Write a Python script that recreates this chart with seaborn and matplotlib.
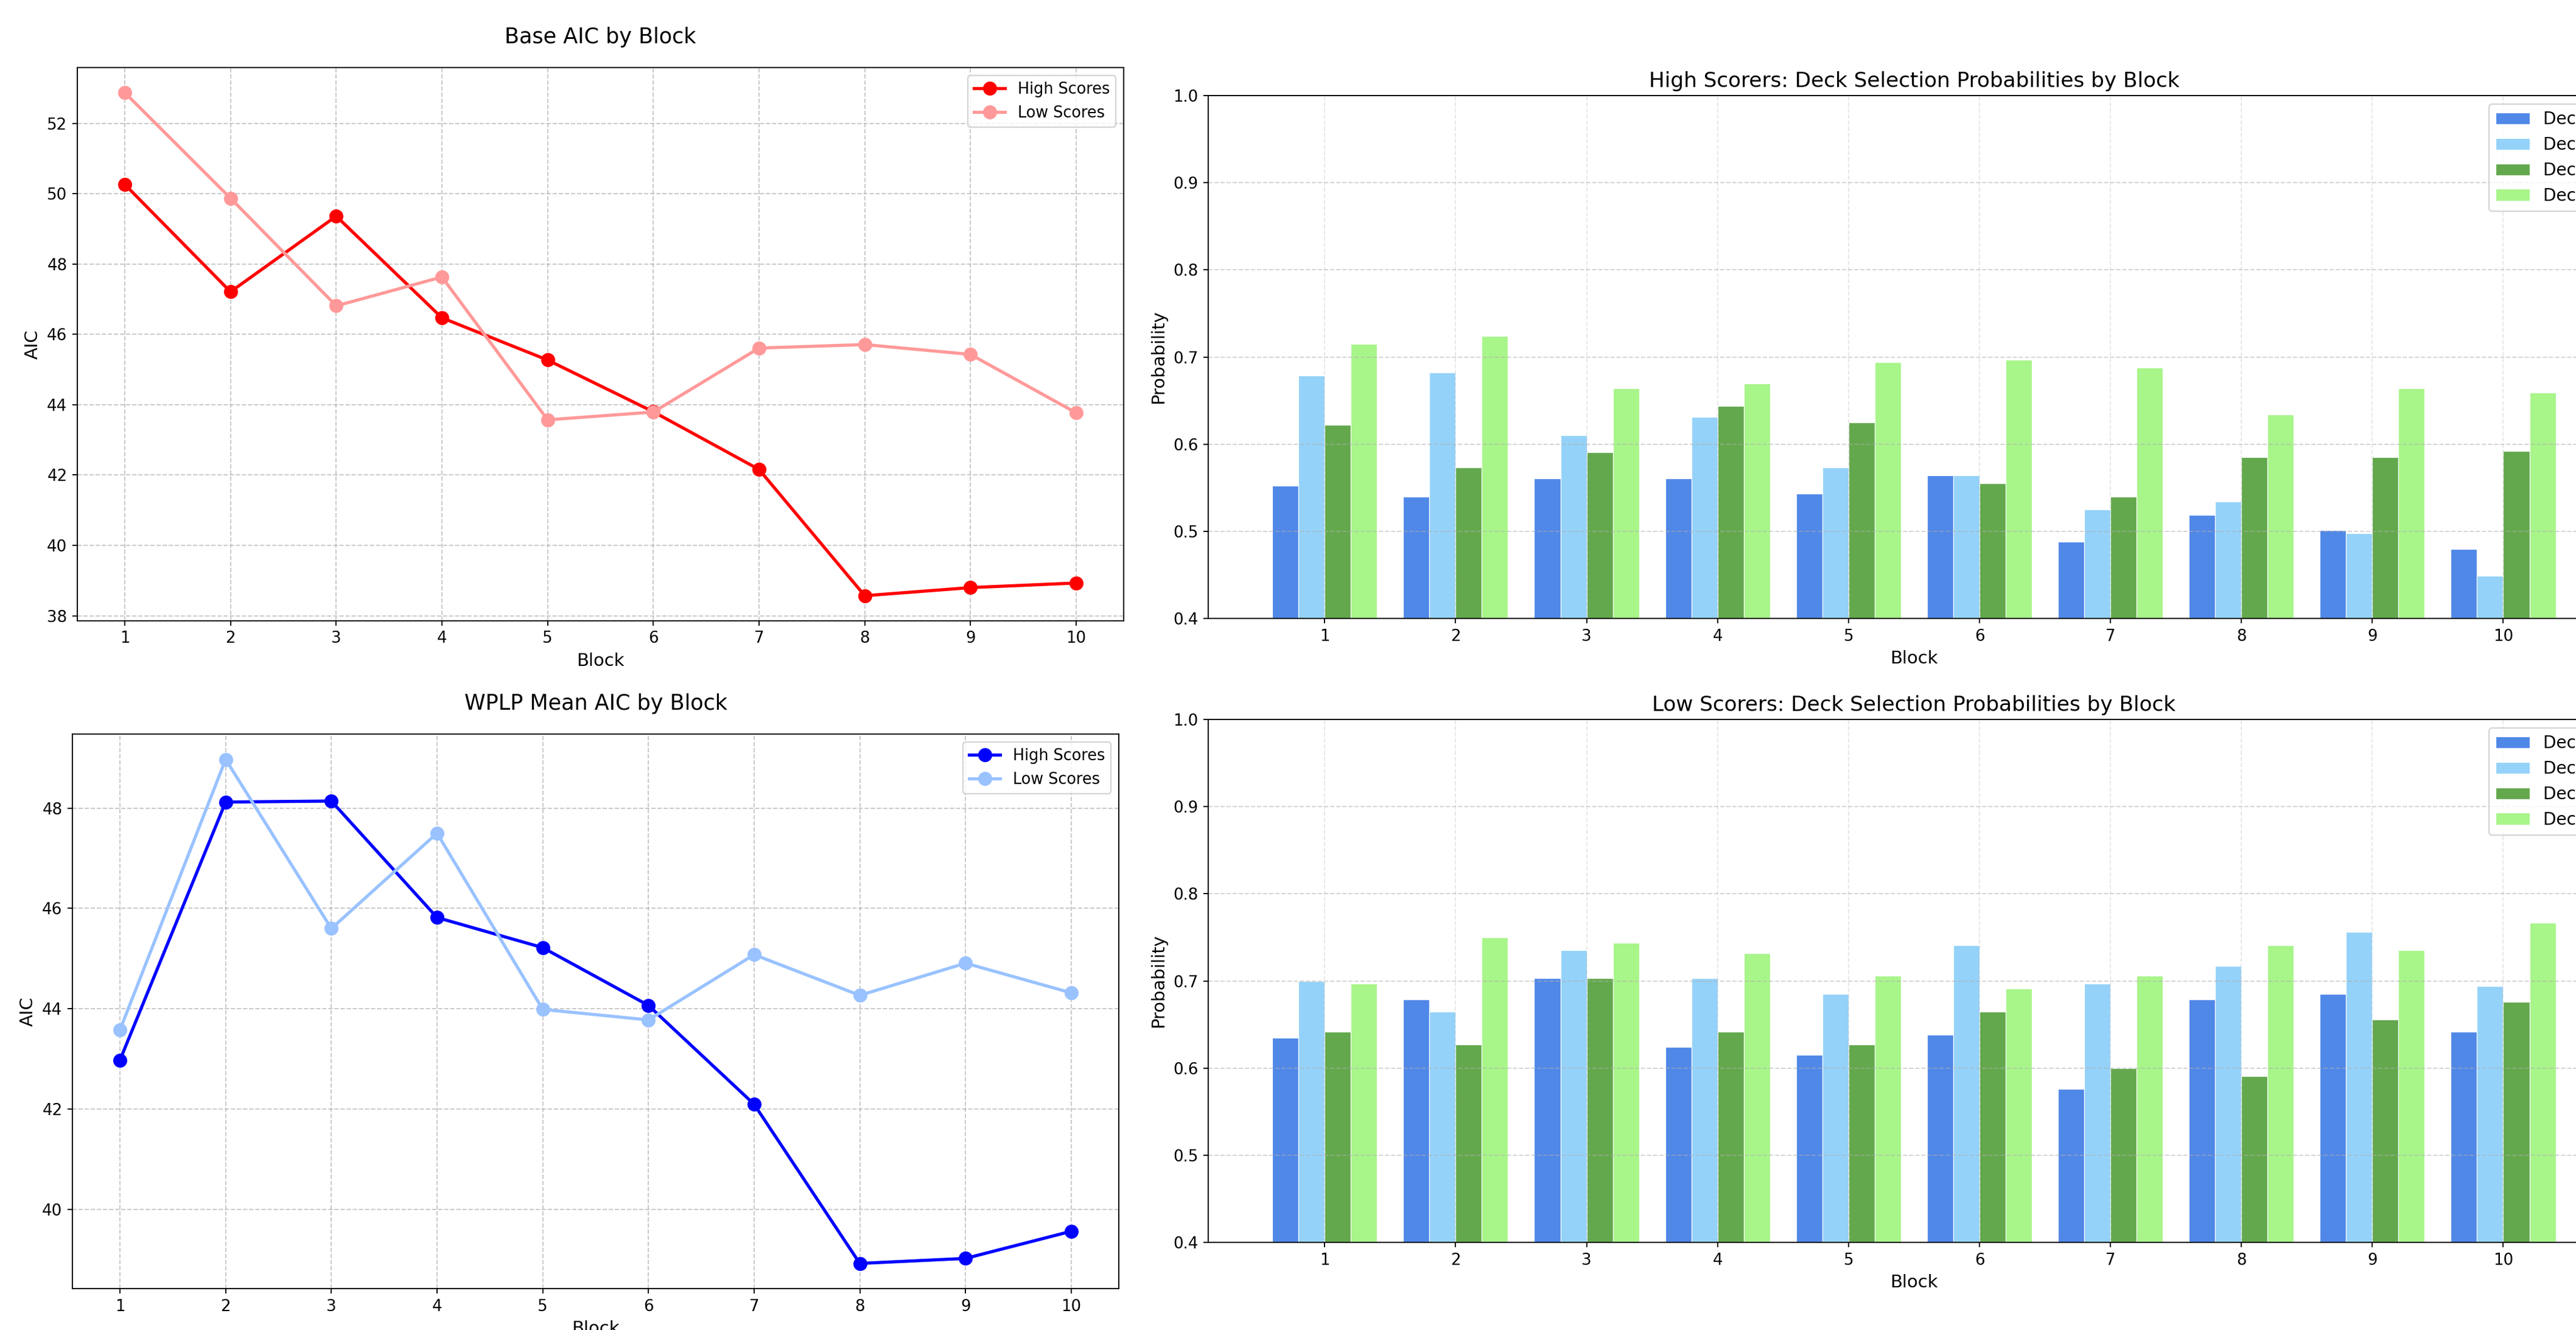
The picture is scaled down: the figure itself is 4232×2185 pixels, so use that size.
import matplotlib
matplotlib.use("Agg")
import matplotlib.pyplot as plt
import seaborn as sns
import pandas as pd

# datos
blocks = [1, 2, 3, 4, 5, 6, 7, 8, 9, 10]

base_high = [50.26, 47.21, 49.36, 46.47, 45.27, 43.80, 42.16, 38.57, 38.80, 38.93]
base_low = [52.87, 49.87, 46.81, 47.63, 43.57, 43.79, 45.61, 45.71, 45.43, 43.77]

wplp_high = [42.98, 48.12, 48.14, 45.82, 45.22, 44.07, 42.10, 38.93, 39.03, 39.57]
wplp_low = [43.58, 48.97, 45.60, 47.50, 43.99, 43.78, 45.08, 44.27, 44.91, 44.32]

decks = ["Deck A", "Deck B", "Deck C", "Deck D"]
deck_colors = ["#5088e8", "#94d2f9", "#63a84d", "#a8f58a"]

# probabilidades high scorers (por deck)
high_a = [0.552, 0.540, 0.561, 0.561, 0.543, 0.564, 0.488, 0.519, 0.501, 0.480]
high_b = [0.679, 0.682, 0.610, 0.631, 0.573, 0.564, 0.525, 0.534, 0.498, 0.449]
high_c = [0.622, 0.573, 0.591, 0.644, 0.625, 0.555, 0.540, 0.585, 0.585, 0.592]
high_d = [0.715, 0.724, 0.664, 0.670, 0.694, 0.697, 0.688, 0.634, 0.664, 0.659]

# probabilidades low scorers
low_a = [0.635, 0.679, 0.703, 0.624, 0.615, 0.638, 0.576, 0.679, 0.685, 0.642]
low_b = [0.700, 0.665, 0.735, 0.703, 0.685, 0.741, 0.697, 0.717, 0.756, 0.694]
low_c = [0.642, 0.627, 0.703, 0.642, 0.627, 0.665, 0.600, 0.591, 0.656, 0.676]
low_d = [0.697, 0.750, 0.744, 0.732, 0.706, 0.691, 0.706, 0.741, 0.735, 0.767]

DPI = 170
fig = plt.figure(figsize=(4232 / DPI, 2185 / DPI), dpi=DPI)

ax1 = fig.add_axes([0.0300, 0.5332, 0.4062, 0.4160])
ax2 = fig.add_axes([0.0281, 0.0311, 0.4062, 0.4169])
ax3 = fig.add_axes([0.4690, 0.5350, 0.5480, 0.3931])
ax4 = fig.add_axes([0.4690, 0.0659, 0.5480, 0.3931])


def line_panel(ax, high, low, c_high, c_low, title):
    sns.lineplot(x=blocks, y=high, ax=ax, color=c_high, marker="o", markersize=9,
                 markeredgecolor=c_high, linewidth=2.2, label="High Scores")
    sns.lineplot(x=blocks, y=low, ax=ax, color=c_low, marker="o", markersize=9,
                 markeredgecolor=c_low, linewidth=2.2, label="Low Scores")
    ax.set_title(title, fontsize=14.8, pad=17)
    ax.set_xlabel("Block", fontsize=12.3)
    ax.set_ylabel("AIC", fontsize=12.3)
    ax.set_xticks(blocks)
    ax.tick_params(labelsize=11)
    ax.grid(True, linestyle="--", alpha=0.7)
    ax.legend(loc="upper right", fontsize=10.8)


line_panel(ax1, base_high, base_low, "#ff0000", "#ff9999", "Base AIC by Block")
line_panel(ax2, wplp_high, wplp_low, "#0000ff", "#99c2ff", "WPLP Mean AIC by Block")


def bar_panel(ax, vals, title):
    rows = []
    for deck, serie in zip(decks, vals):
        for b, v in zip(blocks, serie):
            rows.append({"Block": b, "Deck": deck, "Probability": v})
    df = pd.DataFrame(rows)
    sns.barplot(data=df, x="Block", y="Probability", hue="Deck", ax=ax,
                native_scale=True, palette=deck_colors, saturation=1,
                errorbar=None, width=0.8, edgecolor="white", linewidth=0.5)
    ax.set_title(title, fontsize=14.5)
    ax.set_xlabel("Block", fontsize=12.3)
    ax.set_ylabel("Probability", fontsize=12.3)
    ax.set_xticks(blocks)
    ax.set_ylim(0.4, 1.0)
    ax.set_xlim(0.11, 10.89)
    ax.tick_params(labelsize=11)
    ax.grid(axis="x", linestyle="--", alpha=0.3)
    ax.grid(axis="y", linestyle="--", alpha=0.55)
    ax.legend(loc="upper right", fontsize=11.8)


bar_panel(ax3, [high_a, high_b, high_c, high_d],
          "High Scorers: Deck Selection Probabilities by Block")
bar_panel(ax4, [low_a, low_b, low_c, low_d],
          "Low Scorers: Deck Selection Probabilities by Block")

fig.savefig("out.png", dpi=DPI)
